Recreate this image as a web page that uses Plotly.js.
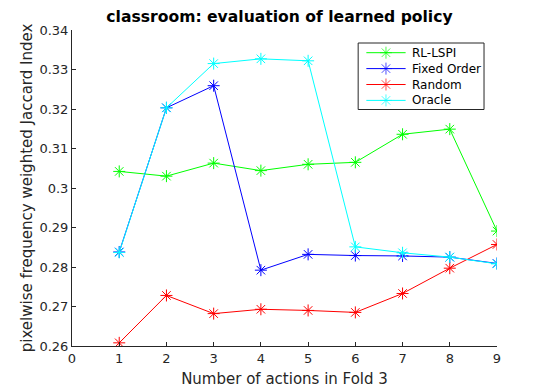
<!DOCTYPE html>
<html>
<head>
<meta charset="utf-8">
<script src="https://cdn.plot.ly/plotly-3.0.1.min.js"></script>
<style>html,body{margin:0;padding:0;background:#fff;}#chart{width:550px;height:390px;}</style>
</head>
<body>
<div id="chart"></div>
<script>
var actions = [1, 2, 3, 4, 5, 6, 7, 8, 9];
var rlLspi = [0.3042, 0.3030, 0.3063, 0.3044, 0.3060, 0.3065, 0.3136, 0.3149, 0.2891];
var fixedOrder = [0.2838, 0.3203, 0.3259, 0.2792, 0.2832, 0.2829, 0.2828, 0.2825, 0.2809];
var randomOrder = [0.2608, 0.2728, 0.2682, 0.2693, 0.2690, 0.2685, 0.2733, 0.2797, 0.2857];
var oracle = [0.2837, 0.3203, 0.3315, 0.3327, 0.3322, 0.2851, 0.2836, 0.2825, 0.2808];
var seriesNames = ['RL-LSPI', 'Fixed Order', 'Random', 'Oracle'];
var seriesColors = ['#00ff00', '#0000ff', '#ff0000', '#00ffff'];
var seriesValues = [rlLspi, fixedOrder, randomOrder, oracle];
var xTicks = [0, 1, 2, 3, 4, 5, 6, 7, 8, 9];
var yTicks = [0.26, 0.27, 0.28, 0.29, 0.3, 0.31, 0.32, 0.33, 0.34];
var yTickText = ['0.26', '0.27', '0.28', '0.29', '0.3', '0.31', '0.32', '0.33', '0.34'];

var font = 'DejaVu Sans, sans-serif';

// plot area in pixels (used for the hand-placed legend overlay axes)
var plotL = 72, plotR = 497.5, plotT = 30, plotB = 346;

var traces = seriesValues.map(function (vals, i) {
  return {
    x: actions, y: vals, name: seriesNames[i], type: 'scatter', mode: 'lines+markers',
    line: {color: seriesColors[i], width: 1},
    marker: {symbol: 'asterisk-open', size: 10, color: seriesColors[i], line: {color: seriesColors[i], width: 1}},
    showlegend: false
  };
});

// legend (MATLAB-style box) drawn on a pixel-unit overlay axis pair
var legLeft = 358.5, legRight = 484.5, legTop = 43, legBottom = 109.5;
var legRow0 = 52.7, legRowStep = 15.9;
var legLineX0 = 366.7, legLineX1 = 406, legTextX = 410;
var annotations = [];
seriesNames.forEach(function (name, i) {
  var yy = legRow0 + i * legRowStep;
  traces.push({
    x: [legLineX0, (legLineX0 + legLineX1) / 2, legLineX1], y: [yy, yy, yy],
    xaxis: 'x2', yaxis: 'y2', type: 'scatter', mode: 'lines+markers', showlegend: false, hoverinfo: 'skip',
    line: {color: seriesColors[i], width: 1},
    marker: {symbol: 'asterisk-open', size: [0, 10, 0], color: seriesColors[i], line: {color: seriesColors[i], width: 1}}
  });
  annotations.push({
    xref: 'x2', yref: 'y2', x: legTextX, y: yy, text: name, showarrow: false,
    xanchor: 'left', yanchor: 'middle', font: {family: font, size: 12, color: '#000000'}
  });
});

var layout = {
  width: 550, height: 390,
  margin: {l: plotL, r: 550 - plotR, t: plotT, b: 390 - plotB, pad: 0},
  paper_bgcolor: '#ffffff', plot_bgcolor: '#ffffff',
  font: {family: font, size: 13, color: '#262626'},
  showlegend: false,
  title: {text: '<b>classroom: evaluation of learned policy</b>', font: {family: font, size: 15.6, color: '#000000'},
          x: 279.5 / 550, xanchor: 'center', y: 1 - 17 / 390, yanchor: 'middle'},
  xaxis: {
    range: [0, 9], tickvals: xTicks, ticktext: xTicks.map(String),
    ticks: 'inside', ticklen: 4, tickwidth: 1, tickcolor: '#262626',
    showline: true, linecolor: '#262626', linewidth: 1, mirror: false,
    showgrid: false, zeroline: false,
    tickfont: {family: font, size: 13, color: '#262626'},
    title: {text: 'Number of actions in Fold 3', font: {family: font, size: 15, color: '#262626'}, standoff: 8}
  },
  yaxis: {
    range: [0.26, 0.34], tickvals: yTicks, ticktext: yTickText,
    ticks: 'inside', ticklen: 4, tickwidth: 1, tickcolor: '#262626',
    showline: true, linecolor: '#262626', linewidth: 1, mirror: false,
    showgrid: false, zeroline: false,
    tickfont: {family: font, size: 13, color: '#262626'},
    title: {text: 'pixelwise frequency weighted Jaccard Index', font: {family: font, size: 15, color: '#262626'}, standoff: 3}
  },
  xaxis2: {overlaying: 'x', range: [plotL, plotR], visible: false, fixedrange: true},
  yaxis2: {overlaying: 'y', range: [plotB, plotT], visible: false, fixedrange: true},
  shapes: [{
    type: 'rect', xref: 'x2', yref: 'y2', x0: legLeft, x1: legRight, y0: legTop, y1: legBottom,
    line: {color: '#262626', width: 1}, fillcolor: 'rgba(0,0,0,0)', layer: 'above'
  }],
  annotations: annotations
};
Plotly.newPlot('chart', traces, layout, {displayModeBar: false, staticPlot: true});
</script>
</body>
</html>
